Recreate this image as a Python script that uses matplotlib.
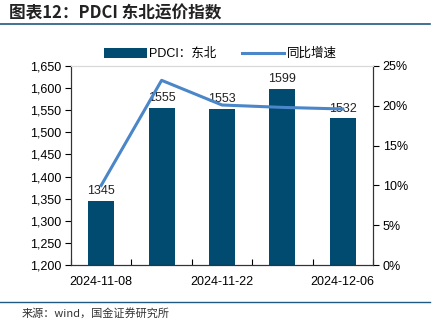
import numpy as np
import matplotlib
matplotlib.use("Agg")
import matplotlib.pyplot as plt
from matplotlib.ticker import FuncFormatter, FixedLocator

plt.rcParams['font.family'] = ['Liberation Sans', 'Noto Sans CJK SC', 'DejaVu Sans']

dates = ['2024-11-08', '2024-11-15', '2024-11-22', '2024-11-29', '2024-12-06']
pdci = [1345, 1555, 1553, 1599, 1532]
yoy = [10.0, 23.2, 20.1, 19.8, 19.6]
shown_dates = ['2024-11-08', '2024-11-22', '2024-12-06']

bar_color = '#014a70'
line_color = '#4a86c8'
rule_color = '#1f5a82'

fig = plt.figure(figsize=(4.41, 3.22), dpi=100)
ax = fig.add_axes([71/441, 1 - 265/322, 302/441, 199/322])
ax2 = ax.twinx()

x = np.arange(len(dates))
bars = ax.bar(x, pdci, width=0.43, color=bar_color, label='PDCI：东北', zorder=2)
for xi, v in zip(x, pdci):
    ax.text(xi, v + 8, str(v), ha='center', va='bottom', fontsize=9, color='#222222', zorder=5)

ln, = ax2.plot(x, yoy, color=line_color, lw=2.2, label='同比增速', zorder=3)

ax.set_xlim(-0.5, len(dates) - 0.5)
ax.set_ylim(1200, 1650)
ax.set_yticks(np.arange(1200, 1651, 50))
ax.yaxis.set_major_formatter(FuncFormatter(lambda v, p: f'{int(v):,}'))
ax2.set_ylim(0, 25)
ax2.set_yticks(np.arange(0, 26, 5))
ax2.yaxis.set_major_formatter(FuncFormatter(lambda v, p: f'{int(v)}%'))

ax.set_xticks([dates.index(d) for d in shown_dates])
ax.set_xticklabels(shown_dates)
ax.xaxis.set_minor_locator(FixedLocator(np.arange(-0.5, len(dates), 1.0)))
ax.tick_params(axis='x', which='major', length=0, pad=8, labelsize=9)
ax.tick_params(axis='x', which='minor', direction='in', length=4, width=0.8)
ax.tick_params(axis='y', direction='out', length=4, width=0.8, labelsize=9, pad=3)
ax2.tick_params(axis='y', direction='out', length=4, width=0.8, labelsize=9, pad=3)

for a in (ax, ax2):
    a.spines['top'].set_color('#d9d9d9')
    a.spines['left'].set_color('#333333')
    a.spines['right'].set_color('#333333')
    a.spines['bottom'].set_color('#333333')
ax.set_zorder(ax2.get_zorder() - 1)
ax.patch.set_visible(False)
ax2.patch.set_visible(False)

fig.legend([bars, ln], ['PDCI：东北', '同比增速'], loc='center', bbox_to_anchor=(0.50, 1 - 54/322),
           ncol=2, frameon=False, fontsize=9, handlelength=3.4, handleheight=0.9,
           columnspacing=2.0, handletextpad=0.2)

fig.text(9/441, 1 - 13/322, '图表12：PDCI 东北运价指数', fontsize=12, fontweight='bold',
         fontstyle='italic', color='#222222', va='center', ha='left',
         family=['Noto Sans CJK SC', 'DejaVu Sans'])
fig.add_artist(plt.Line2D([0, 430/441], [1 - 24/322, 1 - 24/322], color=rule_color, lw=1.2))
fig.add_artist(plt.Line2D([0, 430/441], [1 - 302/322, 1 - 302/322], color=rule_color, lw=1.0))
fig.text(22/441, 1 - 313/322, '来源：wind，国金证券研究所', fontsize=8, color='#333333',
         va='center', ha='left', family=['Noto Sans CJK SC', 'DejaVu Sans'])

fig.savefig('out.png', dpi=100)
